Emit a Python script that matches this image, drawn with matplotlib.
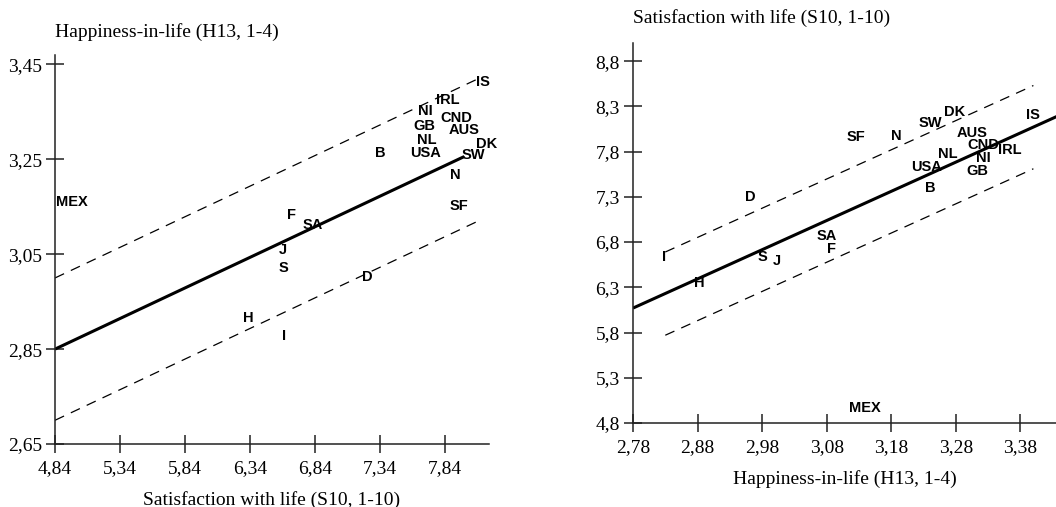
import numpy as np
import matplotlib
matplotlib.use("Agg")
import matplotlib.pyplot as plt

# ---------------------------------------------------------------------------
# Data (label centres)
# ---------------------------------------------------------------------------
countries_left = ["IS", "IRL", "NI", "CND", "GB", "AUS", "NL", "USA", "B", "DK",
                  "SW", "N", "SF", "F", "SA", "J", "S", "D", "H", "I", "MEX"]
sat_left = [8.13, 7.86, 7.69, 7.93, 7.68, 7.99, 7.70, 7.69, 7.34, 8.16,
            8.06, 7.92, 7.95, 6.66, 6.82, 6.59, 6.60, 7.24, 6.33, 6.60, 4.97]
hap_left = [3.414, 3.376, 3.352, 3.337, 3.320, 3.312, 3.290, 3.263, 3.263, 3.282,
            3.260, 3.216, 3.152, 3.133, 3.112, 3.058, 3.020, 3.001, 2.916, 2.878, 3.161]

countries_right = ["SF", "N", "SW", "DK", "AUS", "IS", "CND", "IRL", "NL", "NI",
                   "USA", "GB", "B", "D", "SA", "F", "I", "S", "J", "H", "MEX"]
hap_right = [3.125, 3.187, 3.240, 3.278, 3.305, 3.399, 3.322, 3.364, 3.268, 3.322,
             3.235, 3.313, 3.240, 2.961, 3.080, 3.088, 2.828, 2.980, 3.003, 2.882, 3.139]
sat_right = [7.96, 7.975, 8.12, 8.24, 8.01, 8.207, 7.875, 7.82, 7.776, 7.73,
             7.63, 7.59, 7.40, 7.30, 6.87, 6.72, 6.63, 6.64, 6.59, 6.35, 4.97]

# fitted lines and their bands
fit_left_x = [4.84, 7.99]
fit_left_y = [2.85, 3.256]
band_left_x = [4.84, 8.12]
band_left_y = [2.85, 3.273]
band_left_off = 0.15

fit_right_x = [2.78, 3.44]
fit_right_y = [6.07, 8.20]
band_right_x = [2.83, 3.40]
band_right_y = [6.23, 8.07]
band_right_off = 0.46

left_xticks = [4.84, 5.34, 5.84, 6.34, 6.84, 7.34, 7.84]
left_yticks = [2.65, 2.85, 3.05, 3.25, 3.45]
right_xticks = [2.78, 2.88, 2.98, 3.08, 3.18, 3.28, 3.38]
right_yticks = [4.8, 5.3, 5.8, 6.3, 6.8, 7.3, 7.8, 8.3, 8.8]

SERIF = "Liberation Serif"
SANS = "Liberation Sans"
FS = 14
W, H = 1056, 507


def comma(vals, nd):
    return [f"{v:.{nd}f}".replace(".", ",") for v in vals]


def style_axes(ax, xticks, yticks, nx, ny):
    for s in ("top", "right"):
        ax.spines[s].set_visible(False)
    for s in ("left", "bottom"):
        ax.spines[s].set_linewidth(1.1)
        ax.spines[s].set_color("#222222")
    ax.set_xticks(xticks)
    ax.set_xticklabels(comma(xticks, nx), fontfamily=SERIF, fontsize=FS)
    ax.set_yticks(yticks)
    ax.set_yticklabels(comma(yticks, ny), fontfamily=SERIF, fontsize=FS)
    ax.tick_params(direction="inout", length=13, width=1.1, color="#222222")
    ax.tick_params(axis="x", pad=5)
    ax.tick_params(axis="y", pad=3)
    ax.patch.set_alpha(0)


def panel(ax, names, xs, ys, fx, fy, bx, by, off):
    ax.plot(fx, fy, color="black", lw=2.2, solid_capstyle="butt")
    for sgn in (1, -1):
        ax.plot(bx, [v + sgn * off for v in by], color="black", lw=0.9,
                linestyle=(0, (8, 6)))
    for n, x, y in zip(names, xs, ys):
        ax.text(x, y, n, ha="center", va="center", fontfamily=SANS,
                fontweight="bold", fontsize=10.5, clip_on=False)


fig = plt.figure(figsize=(W / 100, H / 100), dpi=100)
fig.patch.set_facecolor("white")

# left panel: satisfaction (x) vs happiness (y)
axL = fig.add_axes([55 / W, (H - 444) / H, 434 / W, 389 / H])
panel(axL, countries_left, sat_left, hap_left, fit_left_x, fit_left_y,
      band_left_x, band_left_y, band_left_off)
axL.set_xlim(4.84, 8.18)
axL.set_ylim(2.65, 3.47)
style_axes(axL, left_xticks, left_yticks, 2, 2)
axL.set_xlabel("Satisfaction with life (S10, 1-10)", fontfamily=SERIF,
               fontsize=FS, labelpad=10)
fig.text(55 / W, 1 - 32 / H, "Happiness-in-life (H13, 1-4)", fontfamily=SERIF,
         fontsize=FS, ha="left", va="center")

# right panel: happiness (x) vs satisfaction (y)
axR = fig.add_axes([633 / W, (H - 423) / H, 423 / W, 380 / H])
panel(axR, countries_right, hap_right, sat_right, fit_right_x, fit_right_y,
      band_right_x, band_right_y, band_right_off)
axR.set_xlim(2.78, 3.435)
axR.set_ylim(4.8, 9.0)
style_axes(axR, right_xticks, right_yticks, 2, 1)
axR.set_xlabel("Happiness-in-life (H13, 1-4)", fontfamily=SERIF,
               fontsize=FS, labelpad=10)
fig.text(633 / W, 1 - 18 / H, "Satisfaction with life (S10, 1-10)", fontfamily=SERIF,
         fontsize=FS, ha="left", va="center")

fig.savefig("out.png", dpi=100)
